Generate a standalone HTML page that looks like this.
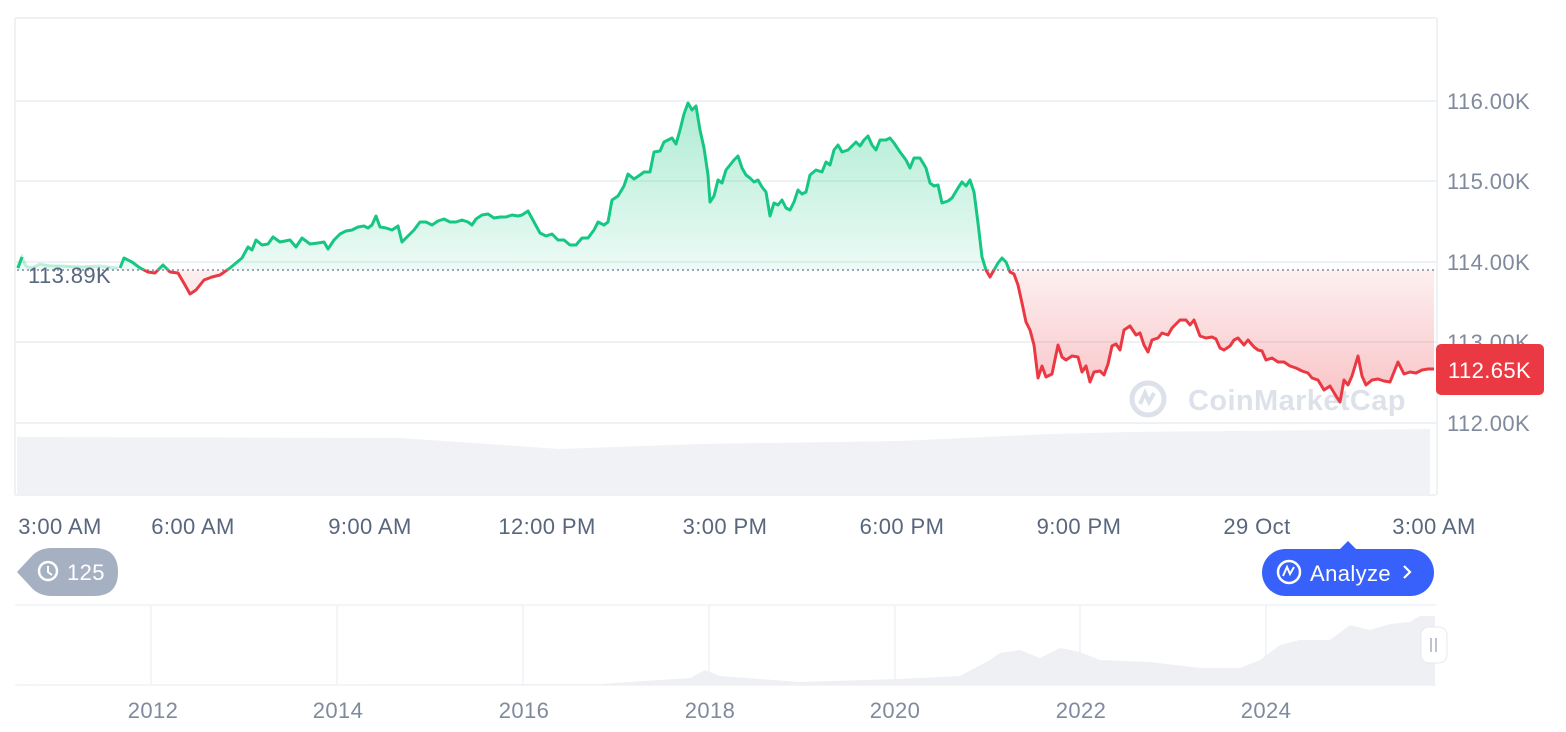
<!DOCTYPE html>
<html><head><meta charset="utf-8"><style>
body{margin:0;background:#fff;width:1566px;height:732px;overflow:hidden;font-family:"Liberation Sans",sans-serif}
svg{position:absolute;left:0;top:0}
text{letter-spacing:0.4px}
</style></head><body>
<svg id="s" width="1566" height="732" viewBox="0 0 1566 732" xmlns="http://www.w3.org/2000/svg">
<defs>
<linearGradient id="gg" x1="0" y1="100" x2="0" y2="270" gradientUnits="userSpaceOnUse"><stop offset="0" stop-color="#16c784" stop-opacity="0.35"/><stop offset="1" stop-color="#16c784" stop-opacity="0.08"/></linearGradient>
<linearGradient id="rg" x1="0" y1="270" x2="0" y2="400" gradientUnits="userSpaceOnUse"><stop offset="0" stop-color="#ea3943" stop-opacity="0.08"/><stop offset="1" stop-color="#ea3943" stop-opacity="0.3"/></linearGradient>
<clipPath id="ca"><rect x="0" y="0" width="1566" height="270"/></clipPath>
<clipPath id="cb"><rect x="0" y="270" width="1566" height="300"/></clipPath>
</defs>
<g stroke="#eff2f5" stroke-width="2" fill="none">
<line x1="15" y1="18" x2="1436" y2="18"/>
<line x1="15" y1="101" x2="1436" y2="101"/>
<line x1="15" y1="181" x2="1436" y2="181"/>
<line x1="15" y1="262" x2="1436" y2="262"/>
<line x1="15" y1="342" x2="1436" y2="342"/>
<line x1="15" y1="423" x2="1436" y2="423"/>
<line x1="15" y1="18" x2="15" y2="495"/>
<line x1="1437" y1="18" x2="1437" y2="495"/>
<line x1="15" y1="495" x2="1436" y2="495"/>
</g>
<polygon points="17,437 400,438 560,449 700,444 900,441 1050,434 1130,432 1430,429 1430,494 17,494" fill="#f0f2f5"/>
<text x="1188" y="410" font-size="29" font-weight="bold" fill="#dde2ea">CoinMarketCap</text>
<circle cx="1148" cy="399" r="16" fill="none" stroke="#dde2ea" stroke-width="5"/>
<path d="M1140,404 L1145,393 L1149,402 L1154,393" stroke="#dde2ea" stroke-width="4" fill="none"/>
<g id="main"></g>
<line x1="17" y1="270" x2="1436" y2="270" stroke="#808a9d" stroke-width="1.5" stroke-dasharray="2,3"/>
<text x="28" y="283" font-size="22" fill="#58667e">113.89K</text>
<g font-size="22" fill="#808a9d">
<text x="1447" y="109">116.00K</text>
<text x="1447" y="189">115.00K</text>
<text x="1447" y="270">114.00K</text>
<text x="1447" y="350">113.00K</text>
<text x="1447" y="431">112.00K</text>
</g>
<rect x="1436" y="344" width="108" height="51" rx="5" fill="#ea3943"/>
<text x="1448" y="378" font-size="22" fill="#fff">112.65K</text>
<g font-size="22" fill="#58667e" text-anchor="middle">
<text x="60" y="534">3:00 AM</text>
<text x="193" y="534">6:00 AM</text>
<text x="370" y="534">9:00 AM</text>
<text x="547" y="534">12:00 PM</text>
<text x="725" y="534">3:00 PM</text>
<text x="902" y="534">6:00 PM</text>
<text x="1079" y="534">9:00 PM</text>
<text x="1257" y="534">29 Oct</text>
<text x="1434" y="534">3:00 AM</text>
</g>
<path d="M17,572 L30,558 Q38,548 52,548 L94,548 Q118,548 118,572 Q118,596 94,596 L52,596 Q38,596 30,586 Z" fill="#a6b0c3"/>
<circle cx="48" cy="571" r="9" fill="none" stroke="#fff" stroke-width="2.5"/>
<path d="M48,566 V572 L52,575" stroke="#fff" stroke-width="2" fill="none"/>
<text x="67" y="580" font-size="22" fill="#fff">125</text>
<path d="M1340,549 L1348,541 L1356,549 Z" fill="#3861fb"/>
<rect x="1262" y="549" width="172" height="47" rx="23.5" fill="#3861fb"/>
<circle cx="1289" cy="572" r="11" fill="none" stroke="#fff" stroke-width="2.5"/>
<path d="M1283,576 L1287,567 L1290,574 L1294,567" stroke="#fff" stroke-width="2" fill="none"/>
<text x="1310" y="581" font-size="22" fill="#fff">Analyze</text>
<path d="M1404,566 L1410,572 L1404,578" stroke="#fff" stroke-width="2.2" fill="none"/>
<g stroke="#eff2f5" stroke-width="1.5">
<line x1="15" y1="605" x2="1436" y2="605"/>
<line x1="15" y1="685" x2="1436" y2="685"/>
<line x1="151" y1="605" x2="151" y2="685"/><line x1="337" y1="605" x2="337" y2="685"/>
<line x1="523" y1="605" x2="523" y2="685"/><line x1="709" y1="605" x2="709" y2="685"/>
<line x1="895" y1="605" x2="895" y2="685"/><line x1="1080" y1="605" x2="1080" y2="685"/>
<line x1="1266" y1="605" x2="1266" y2="685"/>
</g>
<polygon points="15,685 600,684 690,678 705,670 720,676 800,682 900,679 960,676 990,660 1000,653 1020,650 1040,658 1060,648 1080,652 1100,660 1150,662 1200,668 1240,668 1260,660 1280,645 1300,640 1330,640 1350,625 1370,630 1390,624 1410,622 1420,616 1435,616 1435,685" fill="#eef0f3"/>
<rect x="1421" y="627" width="26" height="36" rx="8" fill="#fff" stroke="#e6e9ee"/>
<g stroke="#a6b0c3" stroke-width="1.5"><line x1="1431" y1="638" x2="1431" y2="652"/><line x1="1436" y1="638" x2="1436" y2="652"/></g>
<g font-size="22" fill="#808a9d" text-anchor="middle">
<text x="153" y="718">2012</text><text x="338" y="718">2014</text><text x="524" y="718">2016</text>
<text x="710" y="718">2018</text><text x="895" y="718">2020</text><text x="1081" y="718">2022</text><text x="1266" y="718">2024</text>
</g>
</svg>
<script>
var p=[[120,268],[124,258],[132,262],[140,268],[148,272],[155,273],[163,265],[170,272],[178,273],[185,285],[190,294],[196,290],[204,280],[212,277],[220,275],[230,268],[236,263],[242,258],[248,247],[252,250],[256,240],[262,245],[268,244],[273,237],[280,242],[290,240],[296,247],[302,238],[310,244],[318,243],[324,242],[328,249],[334,240],[340,234],[346,231],[352,230],[358,227],[364,226],[368,228],[372,225],[376,216],[380,227],[386,228],[392,230],[398,226],[402,242],[408,236],[414,230],[420,222],[426,222],[432,225],[438,221],[444,219],[450,222],[456,222],[462,220],[468,222],[472,225],[476,219],[482,215],[488,214],[494,218],[500,217],[506,217],[512,215],[518,216],[522,215],[528,211],[534,222],[540,233],[546,236],[552,234],[558,240],[564,240],[570,245],[576,245],[582,238],[588,238],[594,230],[598,222],[604,225],[608,222],[612,200],[618,196],[624,186],[628,174],[634,179],[640,175],[644,172],[650,172],[654,152],[660,151],[664,142],[668,140],[672,138],[676,144],[680,130],[684,114],[688,103],[692,110],[696,106],[700,130],[704,148],[708,175],[710,202],[714,196],[718,180],[722,183],[726,170],[730,165],[734,160],[738,156],[742,168],[746,175],[750,178],[754,182],[758,180],[762,187],[766,192],[770,216],[774,203],[778,205],[782,200],[786,208],[790,210],[794,202],[798,190],[802,194],[806,192],[810,175],[816,170],[822,172],[826,162],[830,165],[834,150],[838,145],[842,152],[848,150],[852,146],[856,142],[860,146],[864,140],[868,136],[872,145],[876,150],[880,140],[886,140],[890,138],[894,143],[900,152],[906,160],[910,168],[914,158],[920,158],[926,168],[930,183],[934,186],[938,185],[942,203],[948,201],[952,198],[958,188],[962,182],[966,186],[970,180],[974,192],[978,223],[982,257],[986,270],[990,277],[994,270],[998,263],[1002,258],[1006,262],[1010,272],[1014,274],[1018,285],[1022,303],[1026,322],[1030,330],[1034,345],[1038,378],[1042,366],[1046,377],[1052,374],[1058,345],[1062,357],[1066,360],[1072,356],[1078,357],[1082,372],[1086,366],[1090,382],[1094,372],[1100,371],[1104,375],[1108,364],[1112,346],[1116,344],[1120,350],[1124,330],[1130,326],[1136,335],[1140,333],[1144,345],[1148,352],[1152,340],[1158,338],[1162,333],[1168,335],[1172,328],[1176,324],[1180,320],[1186,320],[1190,325],[1194,320],[1200,336],[1206,338],[1212,337],[1216,339],[1220,348],[1224,350],[1230,346],[1234,340],[1238,338],[1244,345],[1248,340],[1254,347],[1258,350],[1262,351],[1266,360],[1272,358],[1278,362],[1284,362],[1290,366],[1296,368],[1302,371],[1308,373],[1312,378],[1318,380],[1324,390],[1330,386],[1336,396],[1340,402],[1344,380],[1348,385],[1352,376],[1358,356],[1362,376],[1366,385],[1372,380],[1378,379],[1384,381],[1390,382],[1394,372],[1398,362],[1404,374],[1410,372],[1416,373],[1422,370],[1428,369],[1434,369]];
var d="M"+p.map(function(q){return q.join(",")}).join(" L");
var a=d+" L1434,270 L120,270 Z";
var pre="M17,268 L22,257 L26,266 L32,268 L40,264 L50,266 L60,266 L80,267 L100,266 L118,268";
var h='<path d="'+pre+'" stroke="#16c784" stroke-opacity="0.25" stroke-width="3" fill="none"/>'+
'<path d="M17,268 L22,257 L26,266 L32,268 L40,264 L118,268 L118,270 L17,270Z" fill="#16c784" fill-opacity="0.08"/>'+
'<path d="M18,268 L22,257" stroke="#16c784" stroke-width="3" fill="none"/>'+
'<path d="'+a+'" fill="url(#gg)" clip-path="url(#ca)"/>'+
'<path d="'+a+'" fill="url(#rg)" clip-path="url(#cb)"/>'+
'<path d="'+d+'" stroke="#16c784" stroke-width="3" fill="none" stroke-linejoin="round" clip-path="url(#ca)"/>'+
'<path d="'+d+'" stroke="#ea3943" stroke-width="3" fill="none" stroke-linejoin="round" clip-path="url(#cb)"/>';
document.getElementById("main").innerHTML=h;
</script>
</body></html>
